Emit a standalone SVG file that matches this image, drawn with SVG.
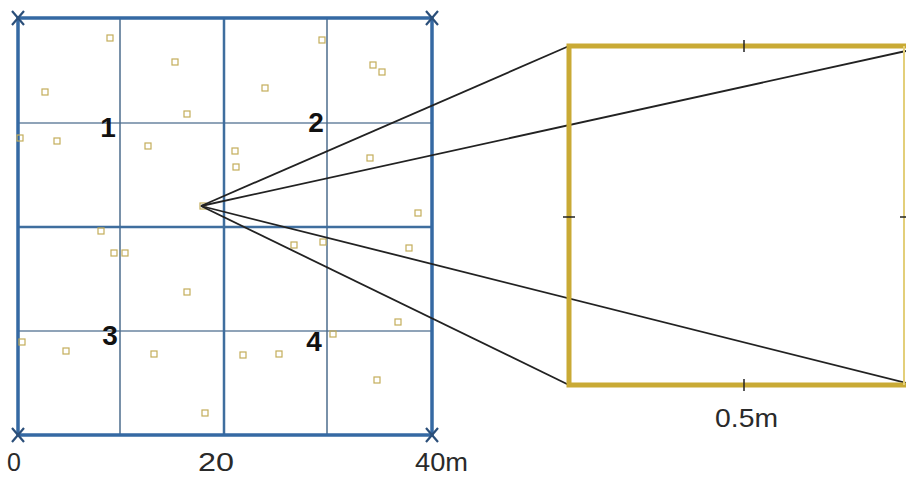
<svg xmlns="http://www.w3.org/2000/svg" width="906" height="478" viewBox="0 0 906 478">
<style>
.outer{stroke:#3569a3;stroke-width:3.5;fill:none}
.mid{stroke:#3f6e9e;stroke-width:2.5;fill:none}
.qv{stroke:#4d6c8c;stroke-width:1.5;fill:none}
.qh{stroke:#8fa3b8;stroke-width:2.2;fill:none}
.pt{stroke:#c4ad5a;stroke-width:1.2;fill:none}
.x{stroke:#2b4f7a;stroke-width:2.2;fill:none}
.conn{stroke:#222;stroke-width:1.8;fill:none}
.zoom{stroke:#c9aa35;stroke-width:5;fill:none}
.tick{stroke:#222;stroke-width:1.5}
.num{font-family:"Liberation Sans",Arial,sans-serif;font-weight:bold;font-size:28px;fill:#111;text-anchor:middle}
.ax{font-family:"Liberation Sans",Arial,sans-serif;font-size:25px;fill:#2a2a2a}
</style>
<defs>
<rect id="sq" x="-3" y="-3" width="6" height="6" class="pt"/>
<path id="xm" d="M-6,-7L6,7M6,-7L-6,7" class="x"/>
</defs>
<rect width="906" height="478" fill="#fff"/>
<g id="plot">
<line class="qh" x1="18" y1="123" x2="432" y2="123"/>
<line class="qh" x1="18" y1="331" x2="432" y2="331"/>
<line class="qv" x1="120" y1="18" x2="120" y2="435"/>
<line class="qv" x1="327" y1="18" x2="327" y2="435"/>
<line class="mid" x1="224" y1="18" x2="224" y2="435"/>
<line class="mid" x1="18" y1="227" x2="432" y2="227"/>
<rect class="outer" x="18" y="18" width="414" height="417"/>
<use href="#xm" x="18" y="18"/>
<use href="#xm" x="432" y="18"/>
<use href="#xm" x="18" y="435"/>
<use href="#xm" x="432" y="435"/>
</g>
<g id="points">
<use href="#sq" x="110" y="38"/><use href="#sq" x="175" y="62"/><use href="#sq" x="45" y="92"/>
<use href="#sq" x="187" y="114"/><use href="#sq" x="20" y="138"/><use href="#sq" x="57" y="141"/>
<use href="#sq" x="148" y="146"/><use href="#sq" x="322" y="40"/><use href="#sq" x="373" y="65"/>
<use href="#sq" x="382" y="72"/><use href="#sq" x="265" y="88"/><use href="#sq" x="235" y="151"/>
<use href="#sq" x="236" y="167"/><use href="#sq" x="370" y="158"/><use href="#sq" x="418" y="213"/>
<use href="#sq" x="203" y="206"/><use href="#sq" x="101" y="231"/><use href="#sq" x="114" y="253"/>
<use href="#sq" x="125" y="253"/><use href="#sq" x="187" y="292"/><use href="#sq" x="294" y="245"/>
<use href="#sq" x="323" y="242"/><use href="#sq" x="409" y="248"/><use href="#sq" x="398" y="322"/>
<use href="#sq" x="333" y="334"/><use href="#sq" x="22" y="342"/><use href="#sq" x="66" y="351"/>
<use href="#sq" x="154" y="354"/><use href="#sq" x="243" y="355"/><use href="#sq" x="279" y="354"/>
<use href="#sq" x="377" y="380"/><use href="#sq" x="205" y="413"/>
</g>
<g id="quadrant-labels">
<text class="num" x="108" y="137">1</text>
<text class="num" x="316" y="132">2</text>
<text class="num" x="110" y="345">3</text>
<text class="num" x="314" y="351">4</text>
</g>
<g id="axis-labels">
<text class="ax" x="7" y="471">0</text>
<text class="ax" x="198" y="471" textLength="36" lengthAdjust="spacingAndGlyphs">20</text>
<text class="ax" x="415" y="471" textLength="53" lengthAdjust="spacingAndGlyphs">40m</text>
</g>
<g id="connectors">
<line class="conn" x1="201" y1="206" x2="569" y2="46"/>
<line class="conn" x1="201" y1="206" x2="906" y2="51"/>
<line class="conn" x1="201" y1="206" x2="569" y2="385"/>
<line class="conn" x1="201" y1="206" x2="906" y2="383"/>
</g>
<g id="zoom-square">
<path class="zoom" d="M906,46H569V385H906"/>
<line x1="904" y1="46" x2="904" y2="385" stroke="#e3cf7a" stroke-width="2"/>
<line class="tick" x1="744" y1="40" x2="744" y2="52"/>
<line class="tick" x1="744" y1="379" x2="744" y2="391"/>
<line class="tick" x1="563" y1="217" x2="575" y2="217"/>
<line class="tick" x1="900" y1="217" x2="906" y2="217"/>
<text class="ax" x="715" y="427" textLength="63" lengthAdjust="spacingAndGlyphs">0.5m</text>
</g>
</svg>
